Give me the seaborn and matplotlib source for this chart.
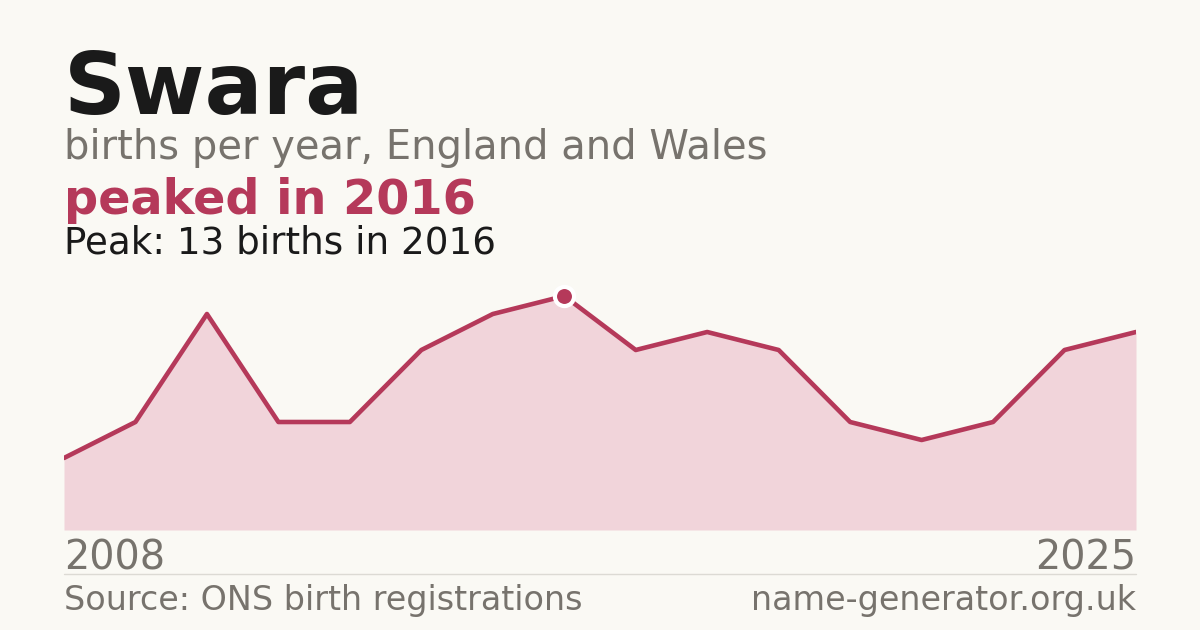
import matplotlib
matplotlib.use("Agg")
import matplotlib.pyplot as plt
import seaborn as sns
import pandas as pd

# Data
years = [2008, 2009, 2010, 2011, 2012, 2013, 2015, 2016, 2017, 2018, 2019, 2020, 2021, 2022, 2024, 2025]
births = [4, 6, 12, 6, 6, 10, 12, 13, 10, 11, 10, 6, 5, 6, 10, 11]
peak_year = 2016
peak_value = 13

title = "Swara"
subtitle = "births per year, England and Wales"
headline = "peaked in 2016"
peak_text = "Peak: 13 births in 2016"
source_text = "Source: ONS birth registrations"
site_text = "name-generator.org.uk"

BG = "#faf9f4"
LINE = "#b5395a"
FILL = "#f1d4da"
GRAY = "#77736d"
DARK = "#1a1a1a"

sns.set_theme(style="white")
plt.rcParams['font.family'] = ['DejaVu Sans']

df = pd.DataFrame({"idx": list(range(len(years))), "year": years, "births": births})

W, H = 1200, 630
fig = plt.figure(figsize=(W / 100, H / 100), dpi=100, facecolor=BG)

left, right = 64, 1136
bottom, top = 530, 296
ax = fig.add_axes([left / W, (H - bottom) / H, (right - left) / W, (bottom - top) / H])
ax.set_facecolor(BG)
ax.patch.set_alpha(0)

ax.fill_between(df["idx"], 0, df["births"], color=FILL, linewidth=0, zorder=1)
sns.lineplot(data=df, x="idx", y="births", ax=ax, color=LINE, linewidth=3.3, zorder=2)
pi = years.index(peak_year)
ax.scatter([pi], [peak_value], s=190, color=LINE, edgecolor="white", linewidth=3,
           zorder=5, clip_on=False)

ax.set_xlim(0, len(years) - 1)
ax.set_ylim(0, peak_value)
ax.axis("off")

# Texts
fig.text(64 / W, 1 - 114 / H, title, fontsize=62, fontweight="bold", color=DARK, ha="left", va="baseline")
fig.text(64 / W, 1 - 159 / H, subtitle, fontsize=28.8, color=GRAY, ha="left", va="baseline")
fig.text(64 / W, 1 - 214 / H, headline, fontsize=34.4, fontweight="bold", color=LINE, ha="left", va="baseline")
fig.text(64 / W, 1 - 254 / H, peak_text, fontsize=26.8, color=DARK, ha="left", va="baseline")

fig.text(64 / W, 1 - 569 / H, str(years[0]), fontsize=28.6, color=GRAY, ha="left", va="baseline")
fig.text(1136 / W, 1 - 569 / H, str(years[-1]), fontsize=28.6, color=GRAY, ha="right", va="baseline")

fig.add_artist(plt.Line2D([64 / W, 1136 / W], [1 - 574 / H, 1 - 574 / H], color="#dcdad4", linewidth=1))

fig.text(64 / W, 1 - 610 / H, source_text, fontsize=24, color=GRAY, ha="left", va="baseline")
fig.text(1136 / W, 1 - 610 / H, site_text, fontsize=24, color=GRAY, ha="right", va="baseline")

fig.savefig("out.png", dpi=100, facecolor=BG)
